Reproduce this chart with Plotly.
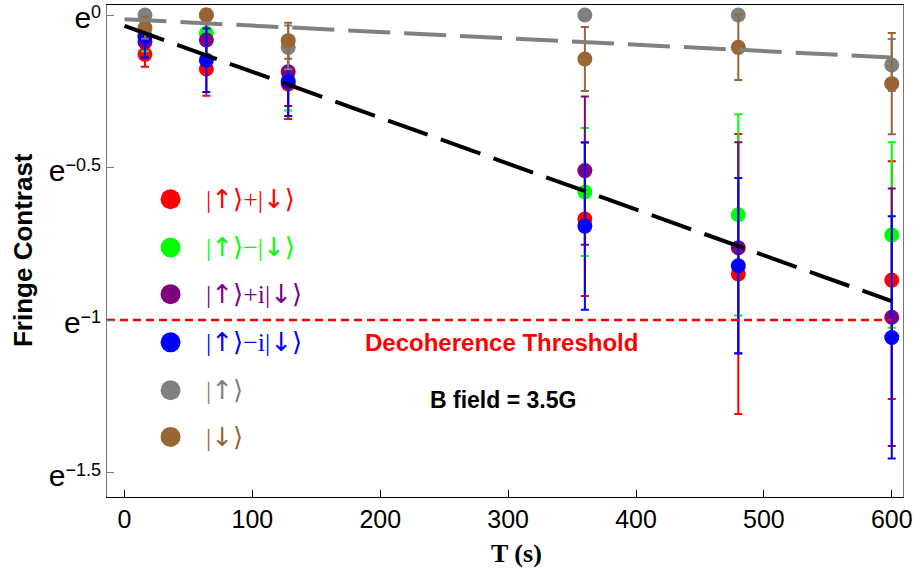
import plotly.graph_objects as go
import numpy as np

# ---------------- data (ln of fringe contrast) ----------------
T = [16, 64, 128, 360, 480, 600]

series_names = ["|↑⟩+|↓⟩", "|↑⟩−|↓⟩", "|↑⟩+i|↓⟩", "|↑⟩−i|↓⟩", "|↑⟩", "|↓⟩"]
series_colors = ["#FF0000", "#00FF00", "#800080", "#0000FF", "#808080", "#996633"]

ln_up_plus_down = [-0.129, -0.177, -0.226, -0.669, -0.849, -0.869]
err_up_plus_down = [0.041, 0.088, 0.115, 0.252, 0.459, 0.390]

ln_up_minus_down = [-0.069, -0.060, -0.213, -0.580, -0.655, -0.721]
err_up_minus_down = [0.050, 0.080, 0.100, 0.210, 0.330, 0.304]

ln_up_plus_i_down = [-0.088, -0.082, -0.186, -0.510, -0.763, -0.991]
err_up_plus_i_down = [0.050, 0.080, 0.112, 0.243, 0.346, 0.422]

ln_up_minus_i_down = [-0.071, -0.148, -0.219, -0.692, -0.822, -1.057]
err_up_minus_i_down = [0.069, 0.104, 0.112, 0.274, 0.288, 0.397]

ln_up = [0.0, 0.0, -0.106, 0.0, 0.0, -0.164]
err_up = [0.010, 0.010, 0.072, 0.0, 0.0, 0.085]

ln_down = [-0.042, 0.0, -0.084, -0.144, -0.106, -0.225]
err_down = [0.036, 0.020, 0.059, 0.105, 0.107, 0.166]

# exponential fits  ln C = a - T / tau
fit_T = [0, 600]
fit_superpos_a, fit_superpos_tau = -0.036, 665.0
fit_pure_a, fit_pure_tau = -0.014, 4800.0

threshold_ln = -1.0

x_ticks = [0, 100, 200, 300, 400, 500, 600]
y_ticks = [0, -0.5, -1, -1.5]
y_exponents = ["0", "−0.5", "−1", "−1.5"]

x_range = [-13.7, 608.8]
y_range = [-1.580, 0.0328]

# legend rows (ln positions)
legend_rows = [-0.604, -0.762, -0.915, -1.073, -1.230, -1.383]
legend_marker_T = 36
legend_text_T = 62

all_ln = [ln_up_plus_down, ln_up_minus_down, ln_up_plus_i_down,
          ln_up_minus_i_down, ln_up, ln_down]
all_err = [err_up_plus_down, err_up_minus_down, err_up_plus_i_down,
           err_up_minus_i_down, err_up, err_down]

fig = go.Figure()

for name, col, ys, es in zip(series_names, series_colors, all_ln, all_err):
    fig.add_trace(go.Scatter(
        x=T, y=ys, mode="markers", name=name,
        marker=dict(color=col, size=15, line=dict(width=0)),
        error_y=dict(type="data", array=es, visible=True, color=col,
                     thickness=2, width=4),
        showlegend=False,
    ))

# threshold line
fig.add_trace(go.Scatter(
    x=[x_range[0], 600], y=[threshold_ln, threshold_ln], mode="lines",
    line=dict(color="#FF0000", width=2.5, dash="8px,5px"),
    showlegend=False, hoverinfo="skip"))

# fits
fT = np.array(fit_T, dtype=float)
fig.add_trace(go.Scatter(
    x=fT, y=fit_pure_a - fT / fit_pure_tau, mode="lines",
    line=dict(color="#808080", width=4, dash="42px,14px"),
    showlegend=False, hoverinfo="skip"))
fig.add_trace(go.Scatter(
    x=fT, y=fit_superpos_a - fT / fit_superpos_tau, mode="lines",
    line=dict(color="#000000", width=4, dash="42px,14px"),
    showlegend=False, hoverinfo="skip"))


def legend_label(s):
    out = ""
    for ch in s:
        if ch in "↑↓":
            out += "<span style='font-family:DejaVu Sans'>" + ch + "</span>"
        else:
            out += ch
    return out


y_ticktext = ["<span style='font-size:30px'>e</span><sup><span style='font-size:18px'>"
              + e + "</span></sup>" for e in y_exponents]

shapes = []
annotations = []
for name, col, yy in zip(series_names, series_colors, legend_rows):
    shapes.append(dict(type="circle", xref="x", yref="y",
                       xsizemode="pixel", ysizemode="pixel",
                       xanchor=legend_marker_T, yanchor=yy,
                       x0=-10, x1=10, y0=-10, y1=10,
                       fillcolor=col, line=dict(width=0)))
    annotations.append(dict(x=legend_text_T, y=yy, xref="x", yref="y",
                            text=legend_label(name), showarrow=False, xanchor="left",
                            yanchor="middle",
                            font=dict(family="Liberation Serif, DejaVu Serif, serif",
                                      size=26, color=col)))

annotations += [
    dict(x=295, y=-1.075, xref="x", yref="y", text="<b>Decoherence Threshold</b>",
         showarrow=False, xanchor="center", yanchor="middle",
         font=dict(family="Liberation Sans, Arial, sans-serif", size=24, color="#FF0000")),
    dict(x=296, y=-1.262, xref="x", yref="y", text="<b>B field = 3.5G</b>",
         showarrow=False, xanchor="center", yanchor="middle",
         font=dict(family="Liberation Sans, Arial, sans-serif", size=23, color="#000000")),
    dict(x=-0.1055, y=0.502, xref="paper", yref="paper", text="<b>Fringe Contrast</b>",
         textangle=-90, showarrow=False, xanchor="center", yanchor="middle",
         font=dict(family="Liberation Sans, Arial, sans-serif", size=26, color="#000000")),
    dict(x=0.514, y=-0.114, xref="paper", yref="paper", text="<b>T (s)</b>",
         showarrow=False, xanchor="center", yanchor="middle",
         font=dict(family="Liberation Serif, Times New Roman, serif", size=26, color="#000000")),
]

fig.update_layout(
    width=913, height=575,
    margin=dict(l=107, r=10, t=5, b=78),
    paper_bgcolor="white", plot_bgcolor="white",
    shapes=shapes, annotations=annotations,
    showlegend=False,
    xaxis=dict(range=x_range, tickvals=x_ticks, showgrid=False, zeroline=False,
               showline=True, linecolor="#000000", linewidth=1.2, mirror=True,
               ticks="inside", ticklen=7, tickcolor="#000000",
               ticklabeloverflow="allow", automargin=False,
               tickfont=dict(family="Liberation Sans, Arial", size=25, color="#000000")),
    yaxis=dict(range=y_range, tickvals=y_ticks, ticktext=y_ticktext,
               showgrid=False, zeroline=False,
               showline=True, linecolor="#777777", linewidth=1.2, mirror=True,
               ticks="inside", ticklen=7, tickcolor="#777777",
               ticklabeloverflow="allow", automargin=False, ticklabelshift=5,
               tickfont=dict(family="Liberation Sans, Arial", size=24, color="#000000")),
)

fig.write_html("out.html", config={"displayModeBar": False},
               post_script="document.body.style.margin='0';document.body.style.padding='0';")
